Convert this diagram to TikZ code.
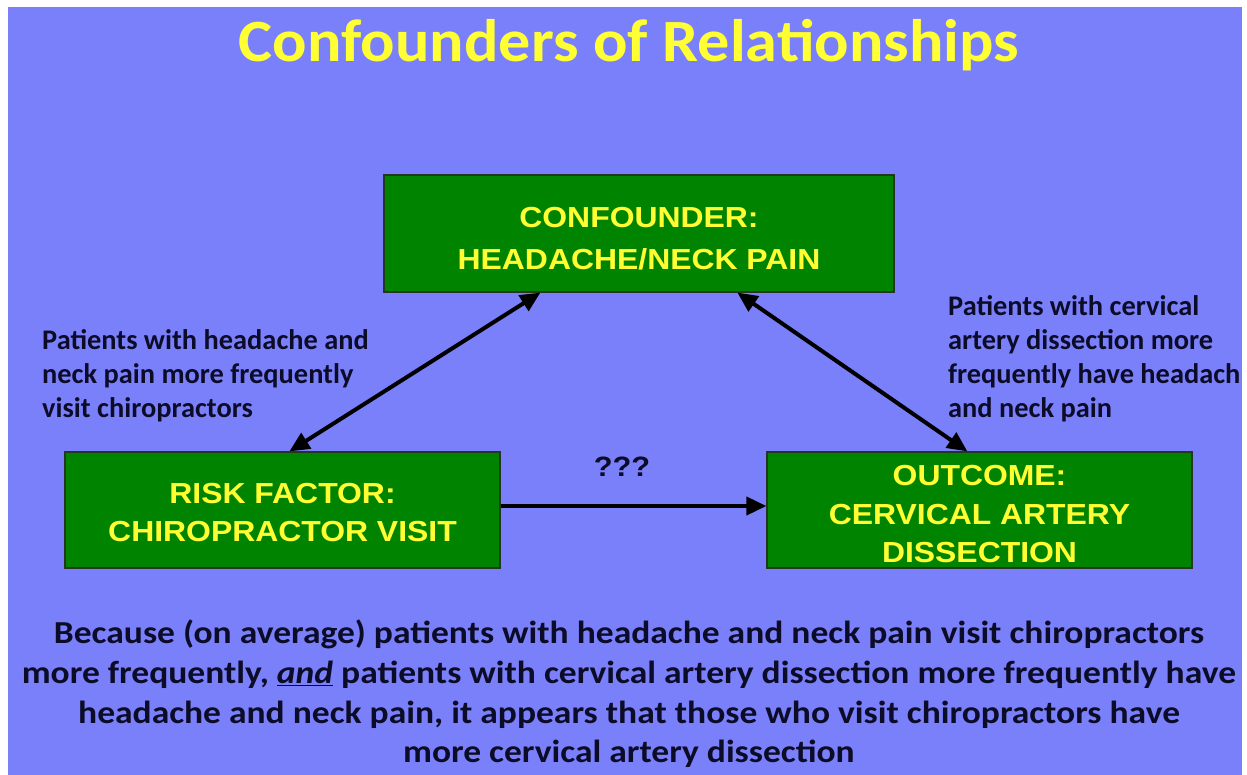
\documentclass[tikz,border=0pt]{standalone}
\usepackage{fontspec}
\setmainfont{Carlito}
\newfontfamily\boxfont{Liberation Sans}[FakeStretch=1.10]
\newfontfamily\ttlfont{Carlito}[FakeStretch=1.07]
\newfontfamily\btfont{Carlito}[FakeStretch=1.11]
\usetikzlibrary{arrows.meta}
\definecolor{bgblue}{RGB}{122,128,250}
\definecolor{boxgreen}{RGB}{0,132,0}
\definecolor{boxedge}{RGB}{35,55,35}
\definecolor{ylw}{RGB}{255,255,51}
\definecolor{dark}{RGB}{12,12,40}
\tikzset{
  gbox/.style={draw=boxedge, line width=1.2pt, fill=boxgreen, text=ylw, align=center,
    font=\boxfont\bfseries\fontsize{29}{38.5}\selectfont, inner sep=0pt},
  lbl/.style={text=dark, align=left, font=\bfseries\fontsize{28.4}{34}\selectfont, inner sep=0pt},
  arr/.style={line width=4pt, draw=black, -{Triangle[length=20pt,width=18pt]}},
  darr/.style={line width=4pt, draw=black, {Triangle[length=20pt,width=18pt]}-{Triangle[length=20pt,width=18pt]}}
}
\begin{document}
\begin{tikzpicture}[x=1pt,y=-1pt]
\useasboundingbox (0,0) rectangle (1247,775);
\fill[white] (0,0) rectangle (1247,775);
\fill[bgblue] (8,7) rectangle (1242,775);
\node[text=ylw, font=\ttlfont\bfseries\fontsize{60}{64}\selectfont, inner sep=0pt] (title) at (629,45) {Confounders of Relationships};
\node[gbox, minimum width=510pt, minimum height=117pt, font=\boxfont\bfseries\fontsize{29}{42}\selectfont] (conf) at (639,233.5) {\rule{0pt}{31pt}CONFOUNDER:\\HEADACHE/NECK PAIN};
\node[gbox, minimum width=435pt, minimum height=116pt] (risk) at (282.5,510) {\rule{0pt}{25pt}RISK FACTOR:\\CHIROPRACTOR VISIT};
\node[gbox, minimum width=425pt, minimum height=116pt] (outc) at (979.5,510) {\rule{0pt}{29pt}OUTCOME:\\CERVICAL ARTERY\\DISSECTION};
\draw[darr] ([xshift=225pt]risk.north west) -- ([xshift=157pt]conf.south west);
\draw[darr] ([xshift=354pt]conf.south west) -- ([xshift=201pt]outc.north west);
\draw[arr] ([yshift=4pt]risk.east) -- ([yshift=4pt]outc.west);
\node[text=dark, font=\boxfont\bfseries\fontsize{28}{30}\selectfont, inner sep=0pt] (q) at (622,467) {???};
\node[lbl, anchor=west] (ll) at (42,376) {Patients with headache and\\neck pain more frequently\\visit chiropractors};
\node[lbl, anchor=west] (rl) at (948,359) {Patients with cervical\\artery dissection more\\frequently have headach\\and neck pain};
\node[text=dark, align=center, font=\btfont\bfseries\fontsize{32}{39.6}\selectfont, inner sep=0pt] (bt) at (629,694)
{Because (on average) patients with headache and neck pain visit chiropractors\\
more frequently, \underline{\textit{and}} patients with cervical artery dissection more frequently have\\
headache and neck pain, it appears that those who visit chiropractors have\\
more cervical artery dissection};
\end{tikzpicture}
\end{document}
